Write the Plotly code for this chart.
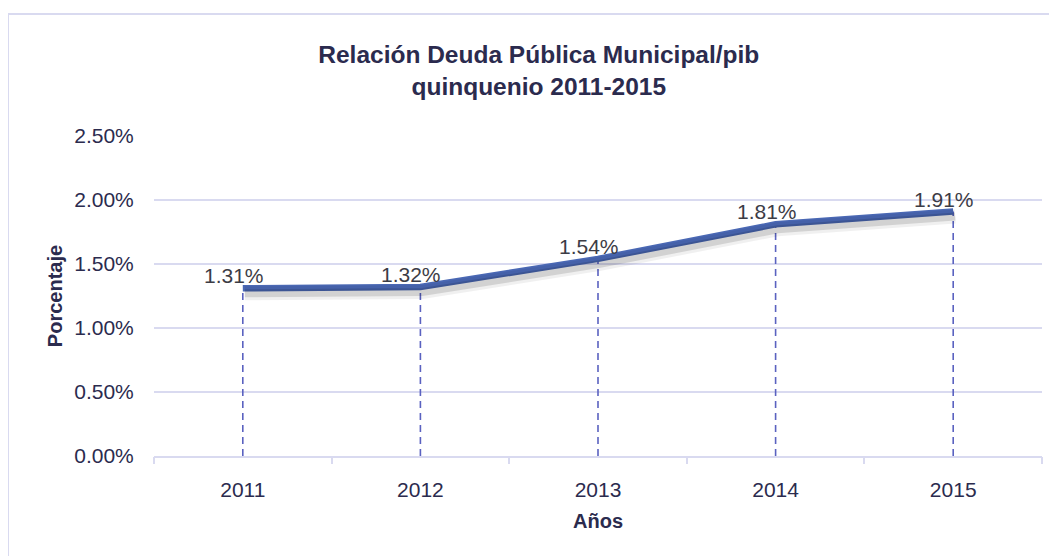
import plotly.graph_objects as go

years = ["2011", "2012", "2013", "2014", "2015"]
values = [1.31, 1.32, 1.54, 1.81, 1.91]
labels = ["1.31%", "1.32%", "1.54%", "1.81%", "1.91%"]
yticks = [0, 0.5, 1.0, 1.5, 2.0, 2.5]
yticktext = ["0.00%", "0.50%", "1.00%", "1.50%", "2.00%", "2.50%"]

FONT = "Liberation Sans Narrow, Arial Narrow, Liberation Sans, Arial, sans-serif"
NAVY = "#2B2B4E"
GRID = "#D9DAF0"
LINE = "#4A68B4"
DROP = "#5A62C0"

# page body has an 8px margin; the figure starts at (8, 8)
OFF = 8
W, H = 1057 - OFF, 556 - OFF
ML, MR, MT, MB = 154 - OFF, 15, 136 - OFF, 100
pw = W - ML - MR
ph = H - MT - MB
yr = [0, 2.5]
dy = 5 * (yr[1] - yr[0]) / ph
dx = 2 * 5 / pw

fig = go.Figure()

# drop lines
dxs, dys = [], []
for i, v in enumerate(values):
    dxs += [i, i, None]
    dys += [0, v, None]
fig.add_trace(go.Scatter(x=dxs, y=dys, mode="lines",
                         line=dict(color=DROP, width=1.6, dash="7px,5px"),
                         hoverinfo="skip", showlegend=False))

idx = list(range(len(years)))

# shadow
fig.add_trace(go.Scatter(x=idx, y=values, mode="lines", xaxis="x2", yaxis="y2",
                         line=dict(color="rgba(0,0,0,0.06)", width=14),
                         hoverinfo="skip", showlegend=False))
fig.add_trace(go.Scatter(x=idx, y=values, mode="lines", xaxis="x2", yaxis="y2",
                         line=dict(color="rgba(0,0,0,0.12)", width=8),
                         hoverinfo="skip", showlegend=False))

# main line
fig.add_trace(go.Scatter(x=idx, y=values, mode="lines",
                         line=dict(color=LINE, width=6.5),
                         showlegend=False))

annotations = []
for i, (v, t) in enumerate(zip(values, labels)):
    annotations.append(dict(x=i, y=v, xref="x", yref="y", text=t, showarrow=False,
                            xanchor="center", yanchor="bottom", xshift=-9, yshift=-1,
                            font=dict(family=FONT, size=21, color="#3C3C46")))

fig.update_layout(
    width=W, height=H,
    margin=dict(l=ML, r=MR, t=MT, b=MB),
    paper_bgcolor="white", plot_bgcolor="white",
    font=dict(family=FONT, color=NAVY),
    annotations=annotations,
    title=dict(text="<b>Relación Deuda Pública Municipal/pib<br>quinquenio 2011-2015</b>",
               x=0.506, xanchor="center", y=0.9, yanchor="top",
               font=dict(family=FONT, size=24.5, color=NAVY)),
    xaxis=dict(tickmode="array", tickvals=idx, ticktext=years, range=[-0.5, 4.5],
               showgrid=False, showline=True, linecolor=GRID, linewidth=1.5,
               ticks="", ticklabelstandoff=14,
               tickfont=dict(family=FONT, size=21, color=NAVY),
               title=dict(text="<b>Años</b>", standoff=14,
                          font=dict(family=FONT, size=20, color=NAVY)),
               zeroline=False, fixedrange=True),
    xaxis3=dict(tickmode="array", tickvals=[i + 0.5 for i in range(-1, len(years))],
                overlaying="x", range=[-0.5, 4.5], showticklabels=False,
                ticks="outside", ticklen=7, tickcolor=GRID, tickwidth=1.5,
                showgrid=False, zeroline=False, showline=False, anchor="y",
                fixedrange=True),
    yaxis=dict(range=yr, tickvals=yticks, ticktext=yticktext,
               showgrid=True, gridcolor=GRID, gridwidth=1.5, zeroline=False,
               showline=False, ticks="outside", ticklen=15, tickcolor="rgba(0,0,0,0)",
               tickfont=dict(family=FONT, size=21, color=NAVY),
               title=dict(text="<b>Porcentaje</b>", standoff=6,
                          font=dict(family=FONT, size=20, color=NAVY)),
               fixedrange=True),
    xaxis2=dict(overlaying="x", range=[-0.5 - dx, 4.5 - dx],
                visible=False, fixedrange=True),
    yaxis2=dict(overlaying="y", range=[yr[0] + dy, yr[1] + dy], visible=False,
                fixedrange=True),
    shapes=[dict(type="rect", xref="paper", yref="paper", layer="below",
                 x0=-ML / pw, x1=(W + 20 - ML) / pw,
                 y0=-(MB + 20) / ph, y1=1 + (MT - 6) / ph,
                 line=dict(color=GRID, width=2), fillcolor="rgba(0,0,0,0)")],
)

# invisible trace to activate the boundary-tick axis
fig.add_trace(go.Scatter(x=[None], y=[None], xaxis="x3", yaxis="y",
                         showlegend=False, hoverinfo="skip"))

fig.write_html("out.html")
